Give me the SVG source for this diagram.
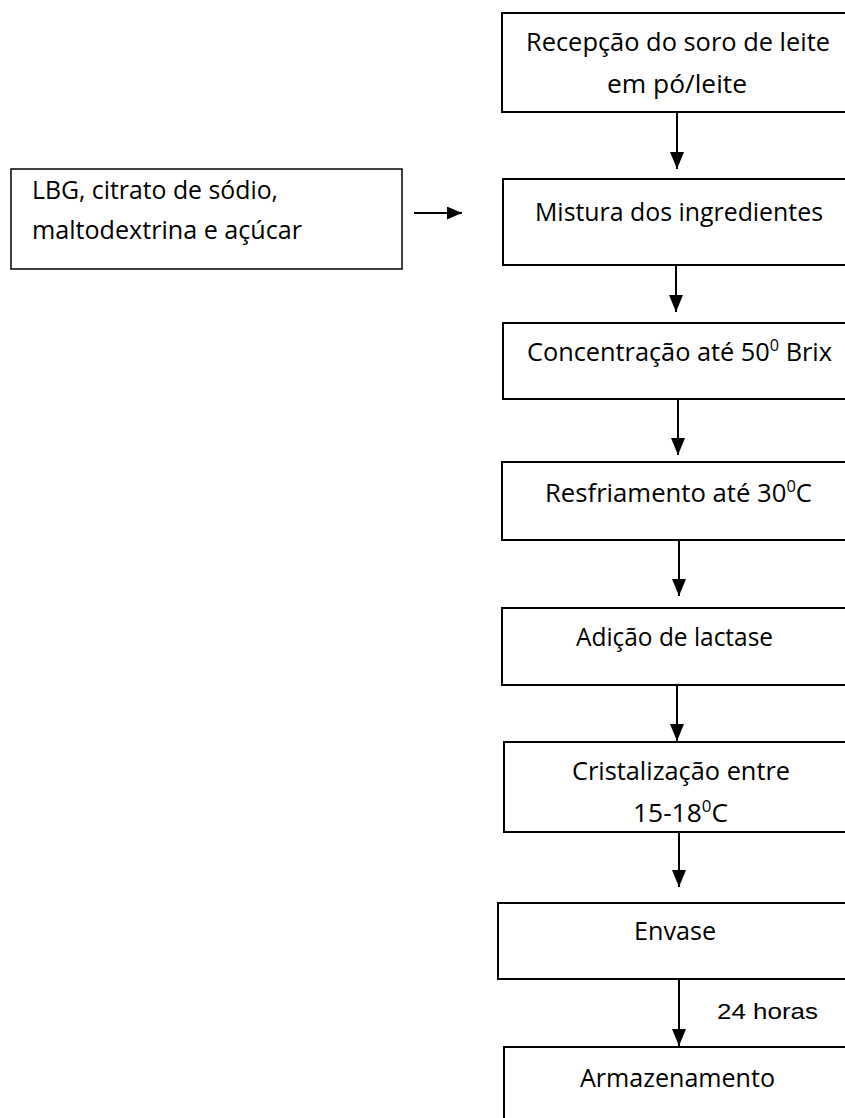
<svg xmlns="http://www.w3.org/2000/svg" width="845" height="1118" viewBox="0 0 845 1118">
  <defs>
    <style>
      .box { fill: #ffffff; stroke: #000000; stroke-width: 2; }
      .box-thin { fill: #ffffff; stroke: #000000; stroke-width: 1.5; }
      .lbl { font-family: "Open Sans", "Noto Sans", sans-serif; font-size: 25px; fill: #000000; }
      .sup { font-size: 16px; }
      .arial { font-family: "Liberation Sans", Arial, sans-serif; font-size: 22px; fill: #000000; }
      .conn { stroke: #000000; stroke-width: 2; fill: none; }
    </style>
    <marker id="ah" markerUnits="userSpaceOnUse" markerWidth="18" markerHeight="16" refX="17" refY="7" orient="auto">
      <path d="M0,0 L17,7 L0,14 Z" fill="#000000"/>
    </marker>
    <marker id="ah-s" markerUnits="userSpaceOnUse" markerWidth="16" markerHeight="14" refX="15" refY="6.5" orient="auto">
      <path d="M0,0 L15,6.5 L0,13 Z" fill="#000000"/>
    </marker>
  </defs>
  <rect width="845" height="1118" fill="#ffffff"/>

  <g id="connectors">
    <line class="conn" x1="414" y1="213" x2="462" y2="213" marker-end="url(#ah-s)"/>
    <line class="conn" x1="677" y1="112" x2="677" y2="169" marker-end="url(#ah)"/>
    <line class="conn" x1="676" y1="265" x2="676" y2="312" marker-end="url(#ah)"/>
    <line class="conn" x1="678" y1="399" x2="678" y2="455" marker-end="url(#ah)"/>
    <line class="conn" x1="679" y1="540" x2="679" y2="596" marker-end="url(#ah)"/>
    <line class="conn" x1="677" y1="685" x2="677" y2="741" marker-end="url(#ah)"/>
    <line class="conn" x1="679" y1="832" x2="679" y2="887" marker-end="url(#ah)"/>
    <line class="conn" x1="679" y1="979" x2="679" y2="1046" marker-end="url(#ah)"/>
    <text class="arial" x="717" y="1019" textLength="101" lengthAdjust="spacingAndGlyphs">24 horas</text>
  </g>

  <g id="node-ingredientes">
    <rect class="box-thin" x="11" y="169" width="391" height="100"/>
    <text class="lbl" x="32" y="199" textLength="246" lengthAdjust="spacingAndGlyphs">LBG, citrato de sódio,</text>
    <text class="lbl" x="32" y="239" textLength="270" lengthAdjust="spacingAndGlyphs">maltodextrina e açúcar</text>
  </g>

  <g id="node-recepcao">
    <rect class="box" x="502" y="13" width="360" height="99"/>
    <text class="lbl" x="526" y="51" textLength="304" lengthAdjust="spacingAndGlyphs">Recepção do soro de leite</text>
    <text class="lbl" x="607" y="93" textLength="140" lengthAdjust="spacingAndGlyphs">em pó/leite</text>
  </g>

  <g id="node-mistura">
    <rect class="box" x="503" y="179" width="360" height="86"/>
    <text class="lbl" x="535" y="221" textLength="288" lengthAdjust="spacingAndGlyphs">Mistura dos ingredientes</text>
  </g>

  <g id="node-concentracao">
    <rect class="box" x="503" y="323" width="360" height="76"/>
    <text class="lbl" x="527" y="361" textLength="305" lengthAdjust="spacingAndGlyphs">Concentração até 50<tspan class="sup" dy="-10">0</tspan><tspan dy="10"> Brix</tspan></text>
  </g>

  <g id="node-resfriamento">
    <rect class="box" x="502" y="462" width="360" height="78"/>
    <text class="lbl" x="545" y="502" textLength="267" lengthAdjust="spacingAndGlyphs">Resfriamento até 30<tspan class="sup" dy="-10">0</tspan><tspan dy="10">C</tspan></text>
  </g>

  <g id="node-lactase">
    <rect class="box" x="502" y="608" width="360" height="77"/>
    <text class="lbl" x="576" y="646" textLength="197" lengthAdjust="spacingAndGlyphs">Adição de lactase</text>
  </g>

  <g id="node-cristalizacao">
    <rect class="box" x="504" y="742" width="360" height="90"/>
    <text class="lbl" x="572" y="780" textLength="218" lengthAdjust="spacingAndGlyphs">Cristalização entre</text>
    <text class="lbl" x="633" y="822" textLength="95" lengthAdjust="spacingAndGlyphs">15-18<tspan class="sup" dy="-10">0</tspan><tspan dy="10">C</tspan></text>
  </g>

  <g id="node-envase">
    <rect class="box" x="498" y="903" width="360" height="76"/>
    <text class="lbl" x="634" y="940" textLength="82" lengthAdjust="spacingAndGlyphs">Envase</text>
  </g>

  <g id="node-armazenamento">
    <rect class="box" x="504" y="1047" width="360" height="100"/>
    <text class="lbl" x="580" y="1087" textLength="195" lengthAdjust="spacingAndGlyphs">Armazenamento</text>
  </g>
</svg>
